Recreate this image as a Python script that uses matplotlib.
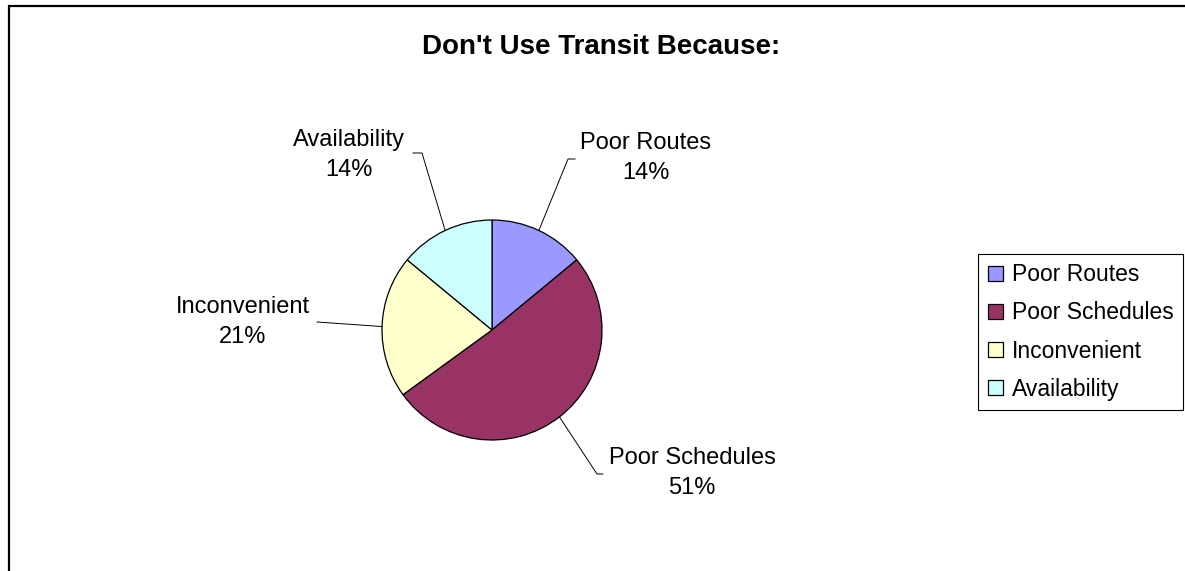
import numpy as np
import matplotlib.pyplot as plt

# survey answers
categories = ["Poor Routes", "Poor Schedules", "Inconvenient", "Availability"]
shares = [14, 51, 21, 14]
slice_colors = ["#9999FF", "#993366", "#FFFFCC", "#CCFFFF"]
title = "Don't Use Transit Because:"

plt.rcParams['font.family'] = ['Liberation Sans', 'DejaVu Sans']

W, H = 1185, 571
fig = plt.figure(figsize=(W / 100, H / 100), dpi=100)
ax = fig.add_axes([0, 0, 1, 1])

# pie centre / radius in pixel units (y measured from the bottom)
cx, cy, r = 492, H - 330, 110
wedges, _ = ax.pie(shares, colors=slice_colors, startangle=90, counterclock=False,
                   center=(cx, cy), radius=r,
                   wedgeprops=dict(edgecolor='black', linewidth=0.9))

ax.set_xlim(0, W)
ax.set_ylim(0, H)
ax.set_aspect('equal')
ax.axis('off')

# label block centres and leader elbows (pixels from top-left)
label_pos = [(646, 158), (692, 473), (243, 322), (349, 155)]
elbow_pos = [(568, 159), (597, 474), (317, 322), (422, 153)]
stub_pos = [(575, 159), (603, 474), (317, 322), (413, 153)]

for w, name, val, lp, ep, sp in zip(wedges, categories, shares, label_pos, elbow_pos, stub_pos):
    mid = np.deg2rad((w.theta1 + w.theta2) / 2)
    x0, y0 = cx + r * np.cos(mid), cy + r * np.sin(mid)
    ax.plot([x0, ep[0], sp[0]], [y0, H - ep[1], H - sp[1]], color='black', lw=0.7)
    ax.text(lp[0], H - lp[1], f"{name}\n{val}%", ha='center', va='center',
            fontsize=17, linespacing=1.5, multialignment='center')

ax.text(601, H - 47, title, ha='center', va='center', fontsize=20, fontweight='bold')

# chart border (left and top edges)
ax.plot([9, 9, W], [0, H - 6, H - 6], color='black', lw=1.6, solid_joinstyle='miter')

leg = ax.legend(wedges, categories, loc='center left', bbox_to_anchor=(978, H - 332),
                bbox_transform=ax.transData, fontsize=16.5, frameon=True, fancybox=False,
                edgecolor='black', framealpha=1, handlelength=0.65, handleheight=0.65,
                handletextpad=0.4, labelspacing=0.66, borderpad=0.42, borderaxespad=0)
leg.get_frame().set_linewidth(0.8)

fig.savefig("out.png", dpi=100)
